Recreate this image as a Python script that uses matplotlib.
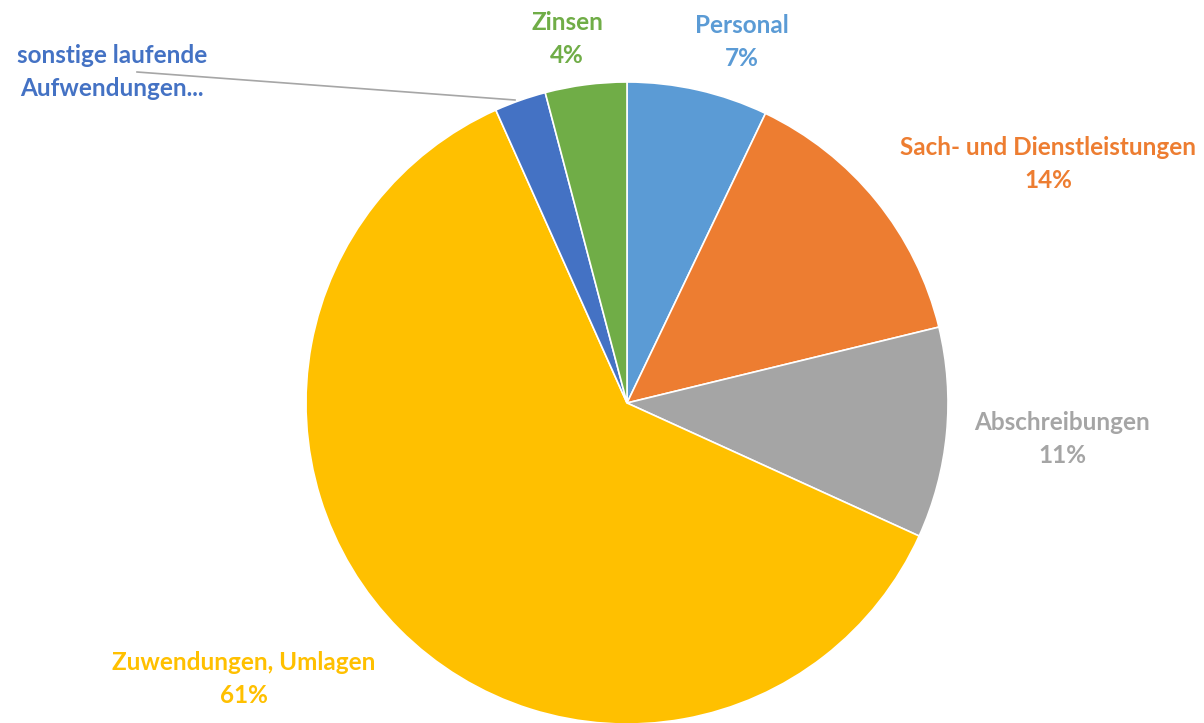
import matplotlib.pyplot as plt

# data
categories = ["Personal", "Sach- und Dienstleistungen", "Abschreibungen",
              "Zuwendungen, Umlagen", "sonstige laufende Aufwendungen", "Zinsen"]
shares = [7.1, 14.1, 10.6, 61.5, 2.6, 4.1]
label_texts = ["Personal\n7%", "Sach- und Dienstleistungen\n14%", "Abschreibungen\n11%",
               "Zuwendungen, Umlagen\n61%", "sonstige laufende\nAufwendungen...", "Zinsen\n4%"]

colors = ["#5B9BD5", "#ED7D31", "#A5A5A5", "#FFC000", "#4472C4", "#70AD47"]
# label positions in pixel space (x, y from top)
label_pos = [(742, 42), (1048, 164), (1062, 439), (244, 679), (112, 72), (567, 39)]

W, H = 1204, 723
fig = plt.figure(figsize=(W / 100, H / 100), dpi=100)
ax = fig.add_axes([0, 0, 1, 1])
ax.set_xlim(0, W)
ax.set_ylim(0, H)
ax.set_aspect("equal")
ax.axis("off")

cx, cy, r = 627, 403, 321
ax.pie(shares, colors=colors, startangle=90, counterclock=False,
       center=(cx, H - cy), radius=r,
       wedgeprops=dict(edgecolor="white", linewidth=1.2))
ax.set_xlim(0, W)
ax.set_ylim(0, H)

for txt, (x, y), c in zip(label_texts, label_pos, colors):
    ax.text(x, H - y, txt, color=c, ha="center", va="center",
            fontsize=17.5, fontweight="bold", family=["Lato", "DejaVu Sans"],
            linespacing=1.55)

# leader line for the small slice
ax.plot([137, 515], [H - 72, H - 100], color="#A6A6A6", linewidth=1.2)

fig.savefig("out.png", dpi=100)
